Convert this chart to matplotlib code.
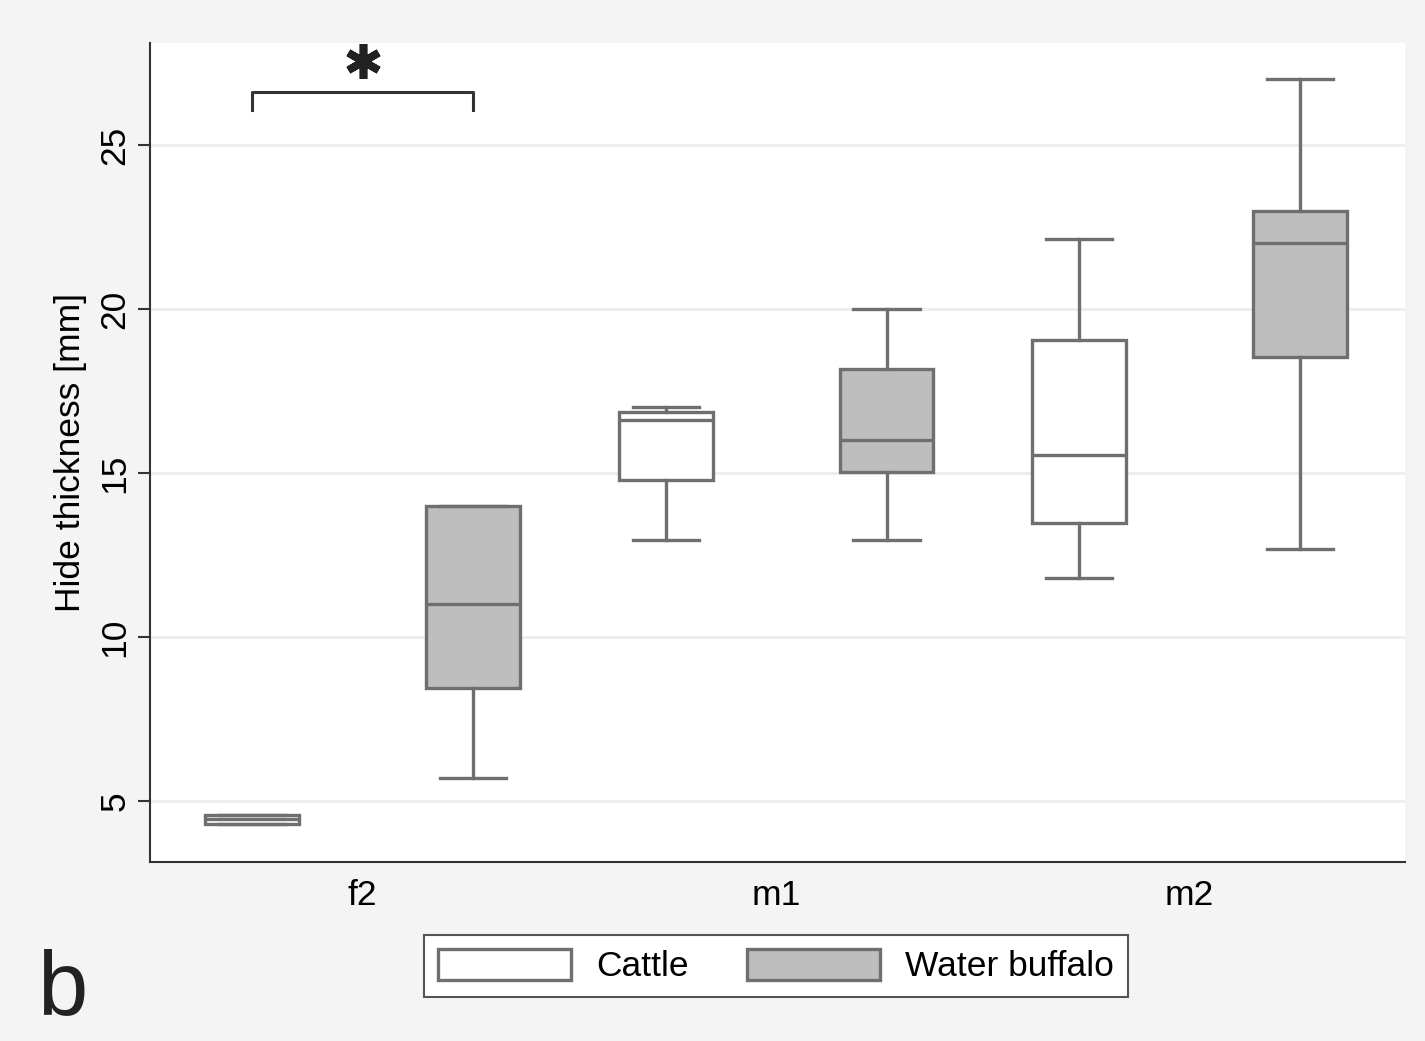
import numpy as np
import matplotlib
matplotlib.use("Agg")
import matplotlib.pyplot as plt
from matplotlib.patches import Patch

plt.rcParams['font.family'] = ['Liberation Sans', 'DejaVu Sans']

groups = ["f2", "m1", "m2"]
species = ["Cattle", "Water buffalo"]

# five-number summaries: whisker low, q1, median, q3, whisker high
cattle_low = [4.30, 12.96, 11.80]
cattle_q1 = [4.30, 14.79, 13.48]
cattle_med = [4.45, 16.62, 15.55]
cattle_q3 = [4.57, 16.86, 19.05]
cattle_high = [4.57, 17.01, 22.13]

buffalo_low = [5.70, 12.96, 12.68]
buffalo_q1 = [8.45, 15.03, 18.54]
buffalo_med = [11.0, 16.0, 22.01]
buffalo_q3 = [14.0, 18.17, 22.99]
buffalo_high = [14.0, 20.0, 27.01]

fills = ["white", "#bebebe"]
edge = "#6f6f6f"
bg = "#f4f4f4"
fs = 25.5


def makeStats(low, q1, med, q3, high):
    stats = []
    for i in range(len(low)):
        stats.append(dict(whislo=low[i], q1=q1[i], med=med[i], q3=q3[i],
                          whishi=high[i], fliers=[]))
    return stats


def main():
    fig = plt.figure(figsize=(14.25, 10.41), dpi=100, facecolor=bg)
    ax = fig.add_axes([0.1053, 0.172, 0.8807, 0.7867])
    ax.set_facecolor("white")

    x = np.arange(len(groups))
    offset = 0.267
    width = 0.227

    all_stats = [makeStats(cattle_low, cattle_q1, cattle_med, cattle_q3, cattle_high),
                 makeStats(buffalo_low, buffalo_q1, buffalo_med, buffalo_q3, buffalo_high)]

    for k, stats in enumerate(all_stats):
        pos = x + (k * 2 - 1) * offset
        ax.bxp(stats, positions=pos, widths=width, capwidths=0.16,
               patch_artist=True, showfliers=False, manage_ticks=False,
               boxprops=dict(facecolor=fills[k], edgecolor=edge, linewidth=2.4),
               medianprops=dict(color=edge, linewidth=2.4),
               whiskerprops=dict(color=edge, linewidth=2.4),
               capprops=dict(color=edge, linewidth=2.4))

    # significance bracket over f2
    x0, x1 = x[0] - offset, x[0] + offset
    ax.plot([x0, x0, x1, x1], [26.07, 26.62, 26.62, 26.07], color="#333333",
            linewidth=2.2, clip_on=False)
    ax.plot([x[0]], [27.55], marker=(6, 2, 0), markersize=25, markeredgewidth=5.5,
            color="#222222", clip_on=False)

    ax.set_xlim(-0.514, 2.521)
    ax.set_ylim(3.14, 28.11)
    ax.set_yticks([5, 10, 15, 20, 25])
    ax.set_yticklabels(["5", "10", "15", "20", "25"], rotation=90, va="center")
    ax.set_xticks(x)
    ax.set_xticklabels(groups)
    ax.tick_params(axis="x", length=0, pad=12, labelsize=fs)
    ax.tick_params(axis="y", length=8.5, width=1.5, color="#333333", pad=5,
                   labelsize=fs)
    ax.yaxis.grid(True, color="#ededed", linewidth=2)
    ax.set_axisbelow(True)
    for s in ["top", "right"]:
        ax.spines[s].set_visible(False)
    for s in ["left", "bottom"]:
        ax.spines[s].set_color("#333333")
        ax.spines[s].set_linewidth(1.5)

    ax.set_ylabel("Hide thickness [mm]", fontsize=fs, labelpad=8)

    handles = [Patch(facecolor=fills[k], edgecolor=edge, linewidth=2.4, label=species[k])
               for k in range(2)]
    leg = fig.legend(handles=handles, loc="center", bbox_to_anchor=(776 / 1425, 1 - 966 / 1041),
                     ncol=2, fontsize=fs, handlelength=3.76, handleheight=0.96,
                     handletextpad=0.7, columnspacing=1.64, fancybox=False,
                     framealpha=1, edgecolor="#555555", borderpad=0.4)
    leg.get_frame().set_linewidth(1.5)

    fig.text(37 / 1425, 1 - 1014 / 1041, "b", fontsize=65, color="#222222",
             ha="left", va="baseline")

    fig.savefig("out.png", dpi=100, facecolor=bg)


if __name__ == "__main__":
    main()
